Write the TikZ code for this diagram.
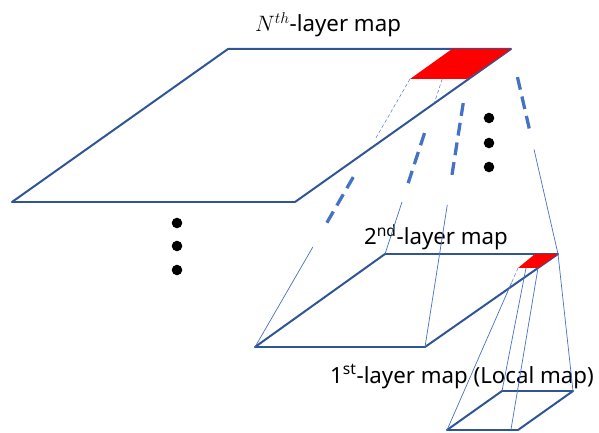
\RequirePackage{fix-cm}
\documentclass[tikz,border=0pt]{standalone}
\usepackage{fontspec}
\setmainfont{Noto Sans}
\usepackage{tikz}
\usetikzlibrary{calc}
\definecolor{mapblue}{RGB}{47,85,151}
\definecolor{linkblue}{RGB}{68,114,196}

\begin{document}
\begin{tikzpicture}[x=0.03cm,y=-0.03cm,
		map/.style={draw=mapblue,line width=1.7pt,line join=round},
		patch/.style={fill=red},
		hidden/.style={draw=linkblue,densely dashed,line width=0.4pt},
		far/.style={draw=linkblue,line width=2.8pt,dash pattern=on 11pt off 6pt},
		near/.style={draw=linkblue,line width=0.6pt},
		dot/.style={circle,fill=black,inner sep=0pt,minimum size=9pt},
		title/.style={anchor=base,font=\fontsize{19}{22}\selectfont}]
	\useasboundingbox (0,0) rectangle (599,433);

	% corners of the three maps
	\coordinate (A) at (228,49);
	\coordinate (B) at (511,49);
	\coordinate (C) at (295,202);
	\coordinate (D) at (12,202);
	\coordinate (A2) at (385,254);
	\coordinate (B2) at (558,254);
	\coordinate (C2) at (425,347);
	\coordinate (D2) at (255,347);
	\coordinate (A1) at (502,391);
	\coordinate (B1) at (573,391);
	\coordinate (C1) at (518,430);
	\coordinate (D1) at (447,430);

	% red patches
	\coordinate (P1) at (452,49);
	\coordinate (P3) at (467,79);
	\coordinate (P4) at (410,79);
	\coordinate (Q1) at (535,254);
	\coordinate (Q3) at (538,268);
	\coordinate (Q4) at (518,268);
	\coordinate (Q5) at (526,268);
	\coordinate (E1) at ($(D1)!0.9!(C1)$);

	\draw[map] (A) -- (B) -- (C) -- (D) -- cycle;
	\draw[map] (A2) -- (B2) -- (C2) -- (D2) -- cycle;
	\draw[map] (A1) -- (B1) -- (C1) -- (D1) -- cycle;
	\fill[patch] (P1) -- (B) -- (P3) -- (P4) -- cycle;
	\fill[patch] (Q1) -- (B2) -- (Q3) -- (Q4) -- cycle;

	\node[title] (labN) at (328,32) {$N^{th}$-layer map};
	\node[title] (lab2) at (436,245) {2\textsuperscript{nd}-layer map};
	\node[title] (lab1) at (462,383) {1\textsuperscript{st}-layer map (Local map)};

	% Nth map -> 2nd map
	\draw[hidden] (P4) -- ($(P4)!0.22!(D2)$);
	\draw[far] ($(P4)!0.366!(D2)$) -- ($(P4)!0.556!(D2)$);
	\draw[near] ($(P4)!0.627!(D2)$) -- (D2);
	\draw[hidden] ($(P1)!0.146!(A2)$) -- ($(P1)!0.26!(A2)$);
	\draw[far] ($(P1)!0.41!(A2)$) -- ($(P1)!0.66!(A2)$);
	\draw[near] ($(P1)!0.746!(A2)$) -- (A2);
	\draw[far] ($(P3)!0.09!(C2)$) -- ($(P3)!0.36!(C2)$);
	\draw[near] ($(P3)!0.47!(C2)$) -- (C2);
	\draw[far] ($(B)!0.137!(B2)$) -- ($(B)!0.42!(B2)$);
	\draw[near] ($(B)!0.49!(B2)$) -- (B2);

	% 2nd map -> 1st map
	\draw[hidden] (Q4) -- ($(Q4)!0.09!(D1)$);
	\draw[near] ($(Q4)!0.09!(D1)$) -- (D1);
	\draw[near] (Q5) -- (A1);
	\draw[near] (Q3) -- (E1);
	\draw[near] (B2) -- (B1);

	\foreach \y [count=\i] in {118,143,167}
		\node[dot] (r\i) at (489,\y) {};
	\foreach \y [count=\i] in {223,246,270}
		\node[dot] (l\i) at (177,\y) {};
\end{tikzpicture}
\end{document}
